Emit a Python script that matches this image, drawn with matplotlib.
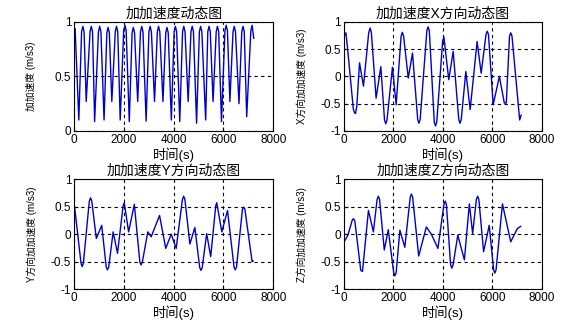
import numpy as np
import matplotlib
matplotlib.use('Agg')
import matplotlib.pyplot as plt

plt.rcParams['font.family'] = ['Liberation Sans', 'Noto Sans CJK SC', 'DejaVu Sans']

# data  ========================================================================
# jerk magnitude
t_mag = [0, 40, 189, 300, 351, 400, 486, 640, 689, 740, 824, 977, 1027, 1077, 1203,
         1315, 1365, 1415, 1514, 1653, 1703, 1753, 1851, 1991, 2041, 2091, 2216,
         2328, 2378, 2428, 2554, 2666, 2716, 2766, 2892, 3004, 3054, 3104, 3230,
         3342, 3392, 3442, 3568, 3680, 3730, 3780, 3905, 4018, 4068, 4118, 4243,
         4355, 4405, 4455, 4581, 4693, 4743, 4793, 4919, 5031, 5081, 5131, 5284,
         5369, 5419, 5469, 5581, 5707, 5757, 5807, 5919, 6058, 6108, 6158, 6257,
         6382, 6432, 6482, 6622, 6734, 6784, 6834, 6932, 7099, 7149, 7216]
v_mag = [0.78, 0.94, 0.10, 0.91, 0.96, 0.91, 0.27, 0.91, 0.96, 0.91, 0.085, 0.91, 0.96, 0.91, 0.10,
         0.90, 0.95, 0.90, 0.27, 0.91, 0.96, 0.91, 0.10, 0.92, 0.97, 0.92, 0.085,
         0.90, 0.95, 0.90, 0.27, 0.91, 0.96, 0.91, 0.09, 0.91, 0.96, 0.91, 0.27,
         0.91, 0.96, 0.91, 0.27, 0.90, 0.95, 0.90, 0.10, 0.91, 0.96, 0.91, 0.085,
         0.91, 0.96, 0.91, 0.27, 0.91, 0.96, 0.91, 0.07, 0.91, 0.96, 0.91, 0.10,
         0.91, 0.96, 0.91, 0.27, 0.91, 0.96, 0.91, 0.085, 0.92, 0.97, 0.92, 0.27,
         0.91, 0.96, 0.91, 0.25, 0.91, 0.96, 0.91, 0.13, 0.92, 0.97, 0.85]

# X direction
t_x = [30, 80, 140, 380, 430, 470, 520, 630, 790, 1000, 1060, 1110, 1300, 1490,
       1640, 1690, 1740, 1960, 2110, 2310, 2360, 2410, 2600, 2770, 2980, 3030, 3080,
       3350, 3400, 3450, 3650, 3700, 3750, 3990, 4040, 4235, 4414, 4640, 4690, 4740,
       4925, 5100, 5380, 5545, 5740, 5790, 5840, 6030, 6280, 6480, 6560, 6690, 6740,
       6790, 7100, 7160]
v_x = [0.76, 0.80, 0.55, -0.60, -0.67, -0.68, -0.55, 0.25, -0.18, 0.80, 0.89, 0.80, -0.40, 0.18,
       -0.80, -0.87, -0.80, 0.17, -0.52, 0.74, 0.81, 0.74, -0.03, 0.43, -0.79, -0.86, -0.79,
       0.84, 0.91, 0.84, -0.84, -0.91, -0.84, 0.66, 0.72, -0.06, 0.46, -0.79, -0.86, -0.79,
       0.09, -0.61, 0.64, 0.06, 0.77, 0.83, 0.77, -0.52, 0.0, -0.49, -0.49, 0.74, 0.80,
       0.74, -0.80, -0.71]

# Y direction
t_y = [20, 280, 324, 370, 610, 662, 710, 892, 1108, 1290, 1338, 1390, 1568, 1743,
       1970, 2014, 2189, 2419, 2640, 2689, 2740, 2959, 3095, 3432, 3680, 3900, 4100,
       4350, 4400, 4450, 4650, 4850, 5045, 5095, 5145, 5324, 5486, 5690, 5730, 5932,
       6162, 6423, 6473, 6523, 6760, 6811, 6860, 7149, 7190]
v_y = [0.49, -0.54, -0.59, -0.54, 0.60, 0.66, 0.60, -0.08, 0.16, -0.60, -0.65, -0.60, 0.04, -0.35,
       0.52, 0.57, 0.04, 0.54, -0.51, -0.56, -0.51, 0.04, -0.05, 0.34, -0.26, 0.0, -0.26,
       0.63, 0.69, 0.63, -0.18, 0.12, -0.61, -0.66, -0.61, 0.01, -0.41, 0.52, 0.57, 0.04,
       0.43, -0.60, -0.65, -0.60, 0.45, 0.49, 0.45, -0.50, -0.49]

# Z direction
t_z = [50, 160, 340, 388, 440, 680, 750, 990, 1190, 1340, 1390, 1440, 1631, 1792,
       2010, 2059, 2110, 2260, 2460, 2677, 2727, 2777, 3021, 3329, 3530, 3797, 4041,
       4091, 4140, 4310, 4359, 4410, 4600, 4867, 5067, 5200, 5351, 5401, 5451, 5642,
       5870, 6047, 6097, 6147, 6404, 6739, 7006, 7140]
v_z = [-0.11, -0.02, 0.26, 0.28, 0.24, -0.66, -0.68, 0.43, 0.04, 0.63, 0.69, 0.63, -0.29, 0.08,
       -0.70, -0.76, -0.70, 0.07, -0.24, 0.67, 0.73, 0.67, -0.40, 0.13, 0.0, -0.26, 0.54,
       0.60, 0.54, -0.56, -0.62, -0.56, -0.02, -0.47, 0.55, 0.01, 0.63, 0.69, 0.63, -0.32,
       0.16, -0.65, -0.71, -0.65, 0.55, -0.14, 0.10, 0.14]

titles = ['加加速度动态图', '加加速度X方向动态图', '加加速度Y方向动态图', '加加速度Z方向动态图']
ylabels = ['加加速度 (m/s3)', 'X方向加加速度 (m/s3)', 'Y方向加加速度 (m/s3)', 'Z方向加加速度 (m/s3)']
xlabel = '时间(s)'
xticks = [0, 2000, 4000, 6000, 8000]

# plot  ========================================================================
fig = plt.figure(figsize=(5.79, 3.33), dpi=100)

# left, bottom, width, height (figure fraction)
boxes = [[0.128, 0.607, 0.344, 0.327],
         [0.594, 0.607, 0.342, 0.327],
         [0.128, 0.132, 0.344, 0.330],
         [0.594, 0.132, 0.342, 0.330]]
series = [(t_mag, v_mag), (t_x, v_x), (t_y, v_y), (t_z, v_z)]

for i in range(4):
    ax = fig.add_axes(boxes[i])
    t, v = series[i]
    ax.plot(t, v, color='#0000cc', lw=1.0)
    ax.set_xlim(0, 8000)
    ax.set_xticks(xticks)
    if i == 0:
        ax.set_ylim(0, 1)
        ax.set_yticks([0, 0.5, 1])
        ax.set_yticklabels(['0', '0.5', '1'])
    else:
        ax.set_ylim(-1, 1)
        ax.set_yticks([-1, -0.5, 0, 0.5, 1])
        ax.set_yticklabels(['-1', '-0.5', '0', '0.5', '1'])
    ax.grid(True, color='black', linestyle=(0, (3, 3)), linewidth=0.8)
    ax.tick_params(direction='in', length=3, labelsize=8.5, pad=2)
    for s in ax.spines.values():
        s.set_linewidth(0.8)
    ax.set_title(titles[i], fontsize=10, pad=3)
    ax.set_xlabel(xlabel, fontsize=9.5, labelpad=1)
    ax.set_ylabel(ylabels[i], fontsize=7, va='center')
    ax.yaxis.set_label_coords(-0.215, 0.5)

fig.savefig('out.png', dpi=100)
